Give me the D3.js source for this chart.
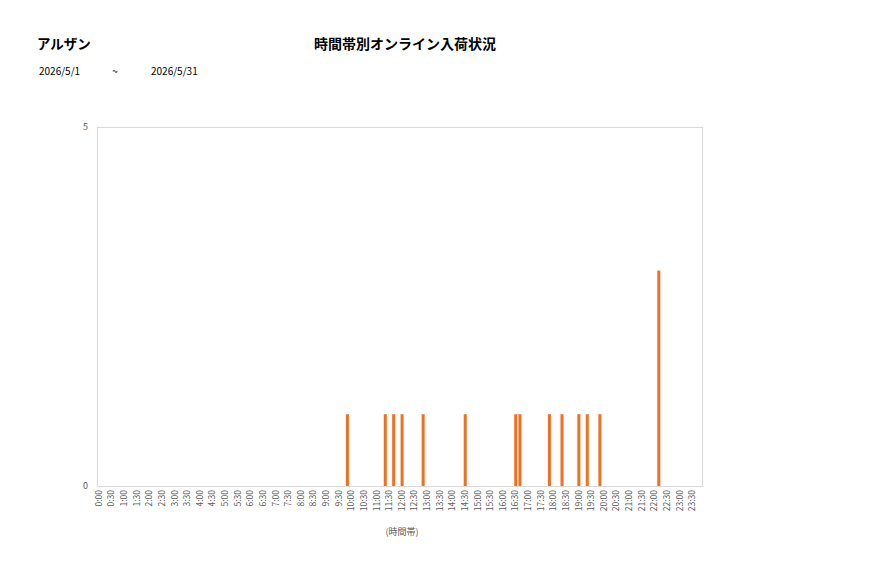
<!DOCTYPE html>
<html>
<head>
<meta charset="utf-8">
<script src="https://cdn.jsdelivr.net/npm/d3@7"></script>
<style>
  html, body { margin: 0; padding: 0; background: #fff; }
  svg { display: block; font-family: "Noto Sans CJK JP", "Noto Sans", sans-serif; }
</style>
</head>
<body>
<svg id="chart" width="877" height="578"></svg>
<script>
// ---- data ----
const shopName = "アルザン";
const chartTitle = "時間帯別オンライン入荷状況";
const dateFrom = "2026/5/1";
const dateSep = "~";
const dateTo = "2026/5/31";
const xAxisTitle = "(時間帯)";
const yTicks = [0, 5];

// 10-minute slots 0:00 .. 23:50
const slots = d3.range(0, 144).map(i => `${Math.floor(i / 6)}:${String((i % 6) * 10).padStart(2, "0")}`);
// tick labels every 30 minutes
const tickLabels = slots.filter((s, i) => i % 3 === 0);
// non-zero counts
const arrivalSlots = ["9:50", "11:20", "11:40", "12:00", "12:50", "14:30", "16:30", "16:40", "17:50", "18:20", "19:00", "19:20", "19:50", "22:10"];
const arrivalCounts = [1, 1, 1, 1, 1, 1, 1, 1, 1, 1, 1, 1, 1, 3];

// ---- layout ----
const svg = d3.select("#chart");
const plot = { left: 97, right: 703, top: 127, bottom: 486 };

const x = d3.scaleBand().domain(slots).range([plot.left, plot.right]).paddingInner(0.28).paddingOuter(0.14);
const y = d3.scaleLinear().domain([0, 5]).range([plot.bottom, plot.top]);

// titles
svg.append("text").attr("x", 37).attr("y", 49).attr("font-size", 13.5).attr("font-weight", 700).attr("fill", "#000").text(shopName);
svg.append("text").attr("x", 405).attr("y", 49).attr("text-anchor", "middle").attr("font-size", 14).attr("font-weight", 700).attr("fill", "#000").text(chartTitle);
svg.append("text").attr("x", 39).attr("y", 75).attr("font-size", 10).attr("fill", "#000").text(dateFrom);
svg.append("text").attr("x", 115).attr("y", 75).attr("text-anchor", "middle").attr("font-size", 10).attr("fill", "#000").text(dateSep);
svg.append("text").attr("x", 151).attr("y", 75).attr("font-size", 10).attr("fill", "#000").text(dateTo);

// plot border
svg.append("rect")
  .attr("x", plot.left + 0.5).attr("y", plot.top + 0.5)
  .attr("width", plot.right - plot.left - 1).attr("height", plot.bottom - plot.top)
  .attr("fill", "none").attr("stroke", "#d9d9d9").attr("stroke-width", 1);

// bars
const barData = arrivalSlots.map((s, i) => ({ slot: s, value: arrivalCounts[i] }));
svg.append("g").selectAll("rect").data(barData).join("rect")
  .attr("x", d => x(d.slot))
  .attr("width", x.bandwidth())
  .attr("y", d => y(d.value))
  .attr("height", d => y(0) - y(d.value))
  .attr("fill", "#ED7023");

// y axis labels
const yAxis = d3.axisLeft(y).tickValues(yTicks).tickSize(0).tickPadding(9).tickFormat(d3.format("d"));
const yg = svg.append("g").attr("transform", `translate(${plot.left},0)`).call(yAxis);
yg.select(".domain").remove();
yg.selectAll("text").attr("font-size", 9).attr("fill", "#595959").attr("font-family", "Noto Sans CJK JP, sans-serif");

// x axis
const xAxis = d3.axisBottom(x).tickValues(tickLabels).tickSize(0).tickPadding(0);
const xg = svg.append("g").attr("transform", `translate(0,${plot.bottom})`).call(xAxis);
xg.select(".domain").attr("stroke", "#d9d9d9");
xg.selectAll("text")
  .attr("font-size", 8.5)
  .attr("fill", "#595959")
  .attr("font-family", "Noto Sans CJK JP, sans-serif")
  .attr("transform", "rotate(-90)")
  .attr("text-anchor", "end")
  .attr("dx", "-4")
  .attr("dy", "0.32em")
  .attr("y", 0)
  .attr("x", 0);

// x title
svg.append("text").attr("x", 402).attr("y", 535).attr("text-anchor", "middle").attr("font-size", 9).attr("fill", "#595959").text(xAxisTitle);
</script>
</body>
</html>
